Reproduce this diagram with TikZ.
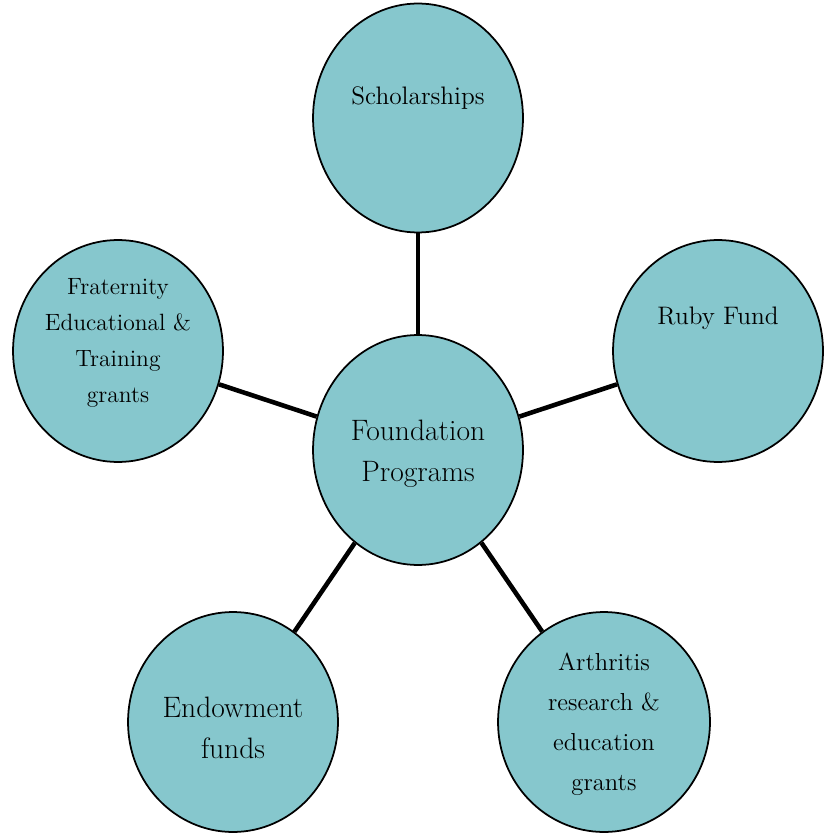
\documentclass[tikz,border=0pt]{standalone}
\usepackage{amsmath}
\usepackage{tikz}
\usetikzlibrary{shapes.geometric}

\definecolor{bubblefill}{RGB}{134,199,205}

\begin{document}
\begin{tikzpicture}[x=0.02cm,y=-0.02cm,
		bubble/.style={ellipse,draw=black,line width=1pt,fill=bubblefill,inner sep=0pt},
		conn/.style={line width=2.6pt,black},
		txt/.style={align=center,font=\fontsize{14.4}{20}\selectfont},
		bigtxt/.style={align=center,font=\fontsize{16.8}{23.5}\selectfont}]
		\useasboundingbox (0,0) rectangle (833,834);
		% the six bubbles
		\node[bubble,minimum width=4.2cm,minimum height=4.6cm] (found) at (418,450) {};
		\node[bubble,minimum width=4.2cm,minimum height=4.58cm] (schol) at (418,118) {};
		\node[bubble,minimum width=4.2cm,minimum height=4.44cm] (ruby) at (718,351) {};
		\node[bubble,minimum width=4.2cm,minimum height=4.44cm] (frat) at (118,351) {};
		\node[bubble,minimum width=4.2cm,minimum height=4.4cm] (endow) at (233,722) {};
		\node[bubble,minimum width=4.24cm,minimum height=4.4cm] (arth) at (604,722) {};
		% spokes
		\draw[conn] (found) -- (schol);
		\draw[conn] (found) -- (ruby);
		\draw[conn] (found) -- (frat);
		\draw[conn] (found) -- (endow);
		\draw[conn] (found) -- (arth);
		% labels
		\node[bigtxt] (found-t) at (418,454) {Foundation\\Programs};
		\node[txt] (schol-t) at (418,98) {Scholarships};
		\node[txt] (ruby-t) at (718,318) {Ruby Fund};
		\node[txt,font=\fontsize{13.4}{20.4}\selectfont] (frat-t) at (118,343) {Fraternity\\Educational \&\\Training\\grants};
		\node[txt,font=\fontsize{14}{22.7}\selectfont] (arth-t) at (604,724) {Arthritis\\research \&\\education\\grants};
		\node[bigtxt] (endow-t) at (233,728) {Endowment\\funds};
\end{tikzpicture}
\end{document}
